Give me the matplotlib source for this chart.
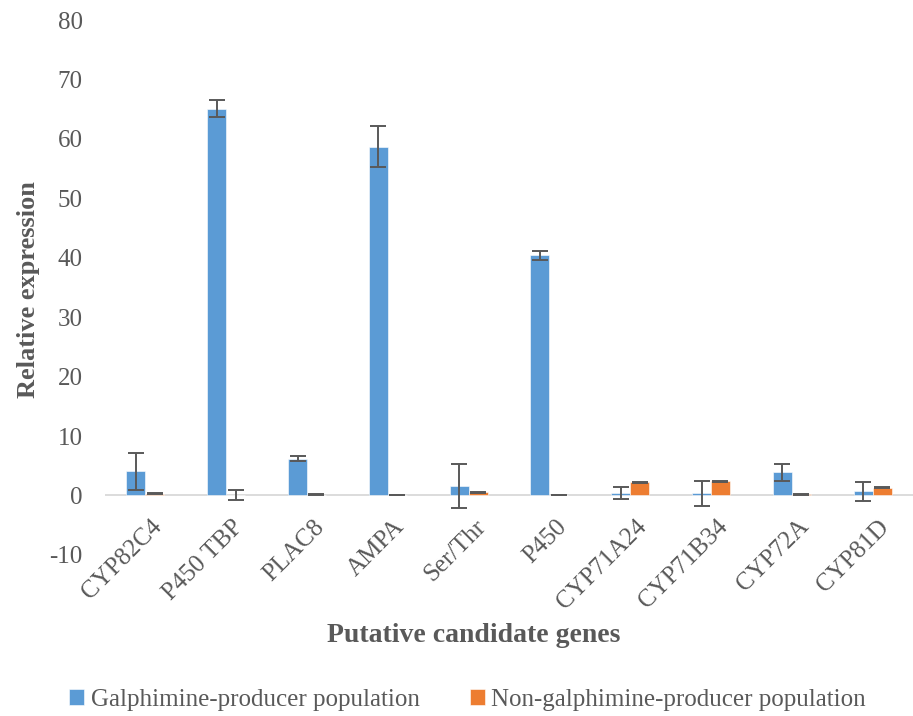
import matplotlib
matplotlib.use('Agg')
import matplotlib.pyplot as plt
import numpy as np

plt.rcParams['font.family'] = ['Liberation Serif', 'DejaVu Serif']
plt.rcParams['axes.unicode_minus'] = False

# data
genes = ['CYP82C4', 'P450 TBP', 'PLAC8', 'AMPA', 'Ser/Thr', 'P450',
         'CYP71A24', 'CYP71B34', 'CYP72A', 'CYP81D']
producer = [4.1, 65.1, 6.2, 58.7, 1.6, 40.4, 0.35, 0.35, 3.9, 0.7]
producer_err = [3.1, 1.4, 0.4, 3.4, 3.7, 0.7, 1.0, 2.1, 1.45, 1.6]
non_producer = [0.3, 0.05, 0.15, 0.05, 0.55, 0.05, 2.2, 2.4, 0.2, 1.3]
non_producer_err = [0.1, 0.8, 0.05, 0.05, 0.1, 0.02, 0.1, 0.1, 0.05, 0.1]
yticks = [-10, 0, 10, 20, 30, 40, 50, 60, 70, 80]

blue = '#5B9BD5'
orange = '#ED7D31'
grey = '#595959'

fig = plt.figure(figsize=(9.13, 7.16), dpi=100)
ax = fig.add_axes([0.115, 0.225, 0.885, 0.747])

x = np.arange(len(genes))
w = 0.235
ekw = dict(ecolor=grey, elinewidth=1.4, capsize=6, capthick=1.4)
b1 = ax.bar(x - w / 2, producer, w, yerr=producer_err, color=blue,
            edgecolor='white', linewidth=0.4, error_kw=ekw,
            label='Galphimine-producer population')
b2 = ax.bar(x + w / 2, non_producer, w, yerr=non_producer_err, color=orange,
            edgecolor='white', linewidth=0.4, error_kw=ekw,
            label='Non-galphimine-producer population')

ax.axhline(0, color='#D9D9D9', linewidth=1.3, zorder=0)
ax.set_xlim(-0.5, len(genes) - 0.5)
ax.set_ylim(-10, 80)
ax.set_yticks(yticks)
ax.set_xticks([])
for s in ax.spines.values():
    s.set_visible(False)
ax.tick_params(axis='y', length=0, pad=16, labelsize=18, labelcolor=grey)

# category labels sit next to the zero line
for i, g in enumerate(genes):
    ax.text(i + 0.07, -3.4, g, rotation=45, rotation_mode='anchor',
            ha='right', va='top', fontsize=18, color=grey)

fig.text(0.031, 0.595, 'Relative expression', rotation=90, ha='center',
         va='center', fontsize=19, fontweight='bold', color=grey)
fig.text(0.519, 0.113, 'Putative candidate genes', ha='center', va='center',
         fontsize=20, fontweight='bold', color=grey)

leg = fig.legend(handles=[b1, b2], loc='center', bbox_to_anchor=(0.512, 0.022),
                 ncol=2, frameon=False, fontsize=18, handlelength=0.6,
                 handleheight=0.6, handletextpad=0.25, columnspacing=2.0)
for t in leg.get_texts():
    t.set_color(grey)

plt.savefig('out.png', dpi=100)
